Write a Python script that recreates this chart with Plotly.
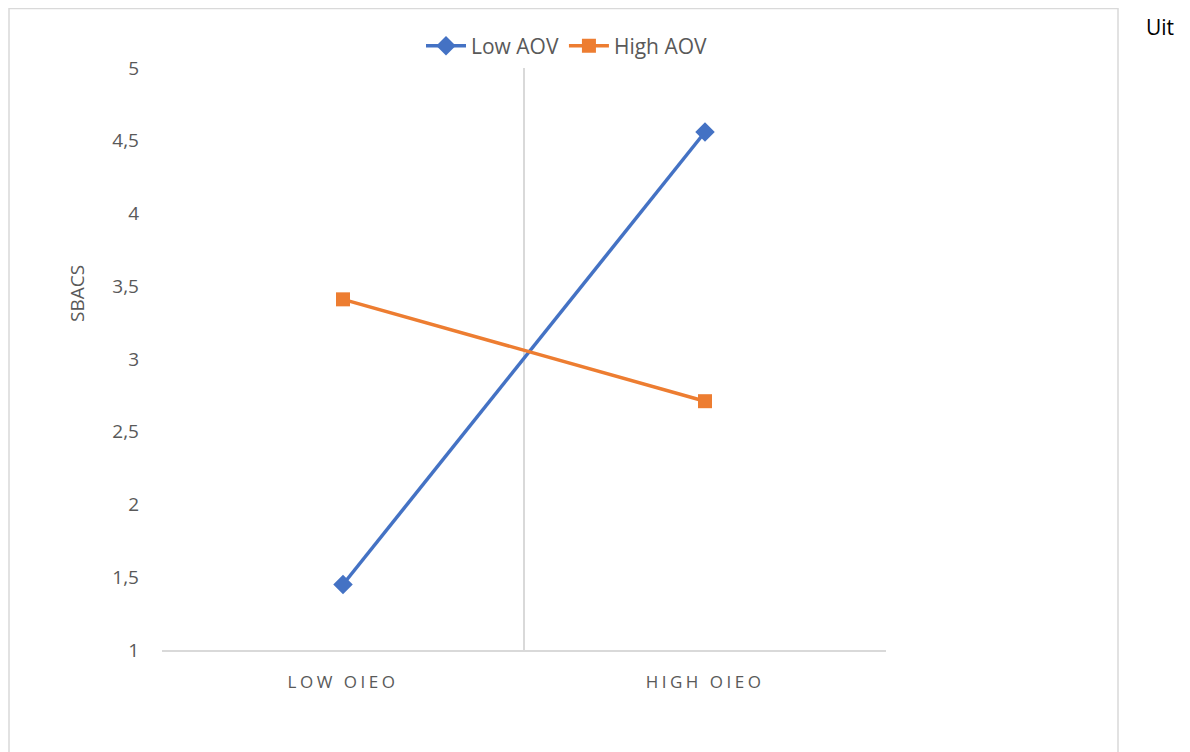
import plotly.graph_objects as go

categories = ["LOW OIEO", "HIGH OIEO"]
cat_pos = [0.5, 1.5]
low_aov = [1.45, 4.56]
high_aov = [3.41, 2.71]
y_ticks = [1, 1.5, 2, 2.5, 3, 3.5, 4, 4.5, 5]

# page body has an 8px margin, so work in reference pixels minus 8
OFF = 8
W, H = 1190 - OFF, 752 - OFF
L, R, T, B = 162 - OFF, 886 - OFF, 68 - OFF, 650 - OFF
pw, ph = R - L, B - T

def px(x):
    return (x - OFF - L) / pw

def py(y):
    return (B - (y - OFF)) / ph

cat_text = ['<span style="letter-spacing:3.5px">%s</span>' % c for c in categories]

fig = go.Figure()
fig.add_trace(go.Scatter(x=cat_pos, y=low_aov, name="Low AOV", mode="lines+markers",
                         line=dict(color="#4472C4", width=3.5),
                         marker=dict(symbol="diamond", size=15, color="#4472C4")))
fig.add_trace(go.Scatter(x=cat_pos, y=high_aov, name="High AOV", mode="lines+markers",
                         line=dict(color="#ED7D31", width=3.5),
                         marker=dict(symbol="square", size=14, color="#ED7D31")))

fig.update_layout(
    width=W, height=H,
    margin=dict(l=L, r=W - R, t=T, b=H - B, autoexpand=False),
    paper_bgcolor="white", plot_bgcolor="white",
    separators=", ",
    font=dict(family="Open Sans", color="#595959", size=16),
    showlegend=True,
    legend=dict(orientation="h", x=px(567), xanchor="center", y=py(46), yanchor="middle",
                font=dict(size=21, color="#595959"), itemwidth=40, tracegroupgap=0),
    xaxis=dict(range=[0, 2], tickvals=cat_pos, ticktext=cat_text, showgrid=False,
               zeroline=False, showline=True, linecolor="#D9D9D9", linewidth=1.5,
               ticks="", tickfont=dict(size=17, color="#595959"), ticklabelstandoff=16,
               minor=dict(tickvals=[0, 1, 2], showgrid=True, gridcolor="#D9D9D9", gridwidth=1.5, ticks="")),
    yaxis=dict(range=[1, 5], tickvals=y_ticks, showgrid=False, zeroline=False,
               showline=False, ticks="", tickfont=dict(size=19, color="#595959"),
               ticklabelstandoff=22),
)

fig.add_annotation(text="SBACS", x=px(62), y=py(294), xref="paper", yref="paper",
                   textangle=-90, showarrow=False, font=dict(size=19, color="#595959"))
fig.add_annotation(text="Uit", x=px(1144), y=py(27), xref="paper", yref="paper",
                   xanchor="left", yanchor="middle", showarrow=False,
                   font=dict(size=21, color="#000000"))
fig.add_shape(type="rect", xref="paper", yref="paper",
              x0=px(9), x1=px(1118), y0=py(790), y1=py(8.5),
              line=dict(color="#D9D9D9", width=1.5), fillcolor="rgba(0,0,0,0)", layer="below")

fig.write_html("out.html")
